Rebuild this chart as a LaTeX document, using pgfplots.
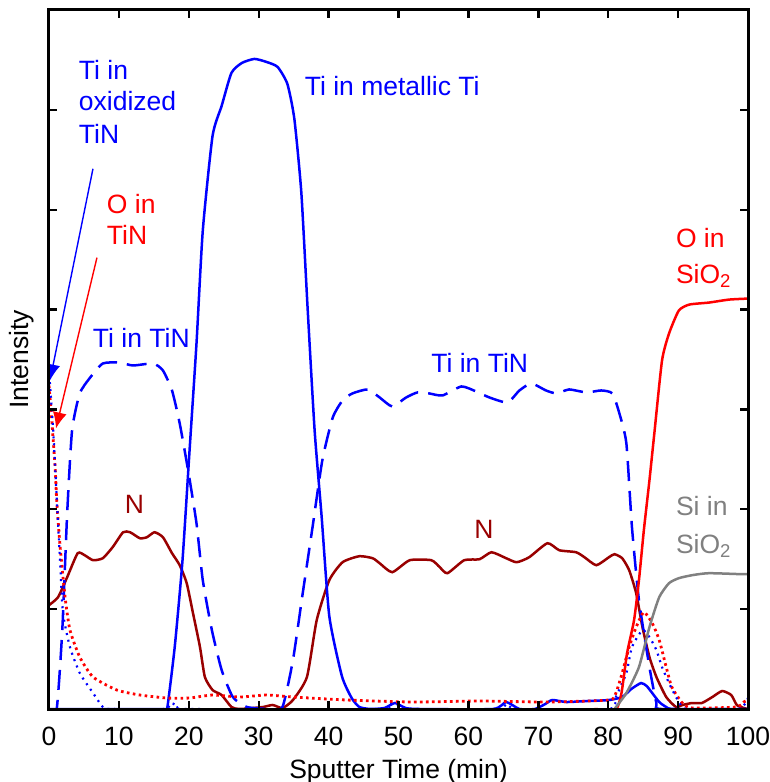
\documentclass[border=0pt]{standalone}
\usepackage{fontspec}
\setmainfont{Liberation Sans}
\usepackage{pgfplots}
\pgfplotsset{compat=1.18}
\usetikzlibrary{arrows.meta}
\definecolor{tiblue}{RGB}{0,0,255}
\definecolor{ored}{RGB}{255,0,0}
\definecolor{ndark}{RGB}{153,0,0}
\definecolor{sigray}{RGB}{128,128,128}
\tikzset{lbl/.style={anchor=base west, inner sep=0pt, outer sep=0pt}}
\begin{document}
\fontsize{13.25pt}{16pt}\selectfont
\begin{tikzpicture}
\useasboundingbox (-24.5pt,-36.5pt) rectangle (360.5pt,354.5pt);
\begin{axis}[
  at={(0pt,0pt)}, anchor=south west,
  scale only axis, width=349.5pt, height=349.5pt,
  xmin=0, xmax=100, ymin=0, ymax=7,
  xtick={0,10,...,100}, ytick={0,1,...,7}, yticklabels={},
  tick align=inside, tick pos=both,
  major tick length=4pt,
  axis on top,
  axis line style={line width=1.5pt},
  every tick/.style={black, line width=1.2pt},
  tick label style={font=\fontsize{13.25pt}{16pt}\selectfont},
  xticklabel style={yshift=-4.5pt},
  /pgf/number format/assume math mode=true,
  xlabel={Sputter Time (min)}, ylabel={Intensity},
  label style={font=\fontsize{13.25pt}{16pt}\selectfont},
  xlabel style={at={(axis description cs:0.5,0)}, anchor=base, yshift=-34.5pt},
  ylabel style={at={(axis description cs:-0.0386,0.5)}, anchor=center},
  every axis plot/.append style={smooth, tension=0.35},
]
% N (dark red)
\addplot[ndark, line width=1.25pt] coordinates {
(0,1.04) (1.3,1.12) (2.6,1.32) (4.1,1.56) (5.1,1.54) (6.3,1.49) (7.7,1.51) (9.1,1.62) (10.6,1.77) (11.6,1.77) (13.0,1.71) (14.0,1.72) (15.1,1.77) (16.3,1.72) (17.6,1.56) (18.7,1.44) (19.7,1.26) (20.6,0.96) (21.6,0.62) (22.3,0.32) (23.4,0.19) (24.7,0.14) (26.1,0.02) (27.3,0) (30.6,0.02) (32.0,0.04) (33.4,0.01) (34.9,0.09) (36.9,0.32) (38.3,0.89) (40.1,1.29) (42.0,1.47) (44.4,1.53) (46.3,1.51) (47.3,1.46) (49.1,1.37) (51.6,1.49) (54.7,1.49) (55.9,1.42) (57.0,1.36) (59.4,1.49) (61.6,1.50) (63.3,1.57) (65.4,1.51) (66.9,1.47) (68.7,1.52) (71.3,1.66) (73.0,1.59) (75.4,1.57) (76.6,1.52) (78.3,1.44) (80.1,1.52) (80.9,1.55) (82.0,1.51) (83.0,1.39) (84.0,1.16) (84.9,0.82) (85.9,0.52) (86.9,0.32) (88.3,0.12) (89.7,0.02) (90.6,0.04) (92.0,0.06) (93.4,0.06) (94.9,0.12) (96.3,0.18) (97.6,0.14) (98.4,0.04) (99.4,0.01) (100,0)
};
% Ti in TiN (dashed blue)
\addplot[tiblue, line width=1.25pt, dash pattern=on 10pt off 5pt] coordinates {
(0,0) (1.1,0) (1.9,0.79) (2.6,1.96) (3.3,2.79) (4.4,3.16) (5.9,3.32) (7.7,3.46) (10.1,3.47) (12.0,3.44) (14.9,3.46) (16.3,3.39) (17.6,3.19) (18.7,2.86) (19.9,2.39) (21.1,1.86) (22.0,1.29) (23.3,0.79) (24.7,0.39) (26.3,0.12) (28.3,0.02) (31.6,0) (33.4,0.02) (34.9,0.49) (36.3,1.16) (37.7,1.82) (39.1,2.49) (40.6,2.92) (42.0,3.09) (43.4,3.16) (45.6,3.20) (47.3,3.12) (49.1,3.03) (51.1,3.12) (52.7,3.17) (54.4,3.16) (56.3,3.14) (59.0,3.23) (61.1,3.18) (63.0,3.12) (65.6,3.07) (67.3,3.19) (69.0,3.26) (71.1,3.19) (72.6,3.16) (74.4,3.20) (76.9,3.17) (79.0,3.19) (80.6,3.16) (81.6,2.96) (82.6,2.66) (83.4,1.82) (84.4,1.09) (85.9,0.42) (86.9,0.06) (87.6,0) (100,0)
};
% Ti in metallic Ti (solid blue)
\addplot[tiblue, line width=1.25pt] coordinates {
(0,0) (16.5,0) (16.9,0) (18,0.63) (19.1,1.49) (20.1,2.58) (21.1,3.66) (22.0,4.79) (23.4,5.74) (24.7,6.04) (26.1,6.37) (27.6,6.47) (29.4,6.51) (31.1,6.48) (32.7,6.43) (34.1,6.26) (35.1,5.91) (36.1,5.17) (37.0,4.01) (38.0,2.79) (39.0,1.93) (40.1,0.93) (41.9,0.33) (43.3,0.11) (44.4,0.02) (46,0) (48,0.01) (49.5,0.06) (51,0.01) (53,0) (63.5,0) (65.4,0.07) (67.3,0) (69.5,0) (71,0.05) (72,0.09) (74,0.07) (77,0.08) (80.1,0.09) (82,0.12) (83.3,0.2) (84.7,0.26) (85.5,0.23) (86.3,0.16) (87.3,0.07) (88.3,0.02) (89.5,0) (100,0)
};
% O in TiN (red dotted)
\addplot[ored, line width=1.4pt, dash pattern=on 1.3pt off 1.7pt] coordinates {
(0,3.24) (0.4,2.89) (0.9,2.39) (1.1,2.09) (1.6,1.62) (2.3,1.12) (3.0,0.79) (4.4,0.52) (6.3,0.32) (9.7,0.19) (13.0,0.14) (16.9,0.11) (20.1,0.11) (23.4,0.14) (27.3,0.12) (31.1,0.14) (34.9,0.12) (42.6,0.09) (52.0,0.07) (61.6,0.08) (71.1,0.07) (80.1,0.09) (81.1,0.16) (82.0,0.36) (83.0,0.62) (84.0,0.82) (85.1,0.97) (86.3,0.86) (87.3,0.69) (88.3,0.42) (89.1,0.22) (90.6,0.06) (92.0,0.01) (98.3,0.02) (99.4,0.07) (100,0.09)
};
% Ti in oxidized TiN (blue dotted)
\addplot[tiblue, line width=1.1pt, dash pattern=on 1pt off 2.4pt] coordinates {
(0,3.34) (0.1,3.29) (0.6,2.79) (1.1,2.12) (1.6,1.46) (2.0,0.96) (3.0,0.62) (4.4,0.36) (6.3,0.16) (7.7,0.02) (8.7,0) (16.5,0) (17.5,0.06) (18.5,0.02) (19.5,0) (47.5,0) (49,0.05) (50.5,0.03) (52,0) (64,0) (65.5,0.05) (67,0) (80.1,0) (81.1,0.12) (82.6,0.36) (83.4,0.62) (84.9,0.79) (85.9,0.72) (86.9,0.59) (87.7,0.42) (88.7,0.26) (89.7,0.12) (90.6,0.02) (91.6,0) (98.7,0) (100,0.11)
};
% O in SiO2 (red solid)
\addplot[ored, line width=1.25pt] coordinates {
(78,0) (81.1,0) (81.9,0.16) (82.7,0.56) (83.7,0.89) (84.4,1.29) (85.1,1.79) (85.9,2.29) (86.6,2.76) (87.7,3.49) (88.7,3.76) (90.1,3.99) (91.6,4.05) (94.4,4.07) (97.3,4.10) (100,4.11)
};
% Si in SiO2 (gray)
\addplot[sigray, line width=1.25pt] coordinates {
(80.9,0) (82.6,0.16) (84.4,0.42) (85.9,0.82) (87.3,1.12) (88.7,1.26) (90.1,1.31) (92.0,1.34) (94.4,1.36) (99.1,1.35) (100,1.35)
};
% labels
\node[lbl, text=tiblue] at (axis cs:36.6,6.14) {Ti in metallic Ti};
\node[lbl, text=tiblue] at (axis cs:4.29,6.30) {Ti in};
\node[lbl, text=tiblue] at (axis cs:4.29,5.99) {oxidized};
\node[lbl, text=tiblue] at (axis cs:4.29,5.66) {TiN};
\node[lbl, text=ored] at (axis cs:8.29,4.96) {O in};
\node[lbl, text=ored] at (axis cs:8.29,4.65) {TiN};
\node[lbl, text=tiblue] at (axis cs:6.29,3.62) {Ti in TiN};
\node[lbl, text=tiblue] at (axis cs:54.7,3.37) {Ti in TiN};
\node[lbl, text=ndark] at (axis cs:10.86,1.96) {N};
\node[lbl, text=ndark] at (axis cs:60.86,1.71) {N};
\node[lbl, text=ored] at (axis cs:89.7,4.62) {O in};
\node[lbl, text=ored] at (axis cs:89.7,4.26) {SiO\textsubscript{2}};
\node[lbl, text=sigray] at (axis cs:89.7,1.94) {Si in};
\node[lbl, text=sigray] at (axis cs:89.7,1.56) {SiO\textsubscript{2}};
\draw[tiblue, line width=0.7pt, -{Latex[length=8pt,width=7pt]}] (axis cs:6.29,5.41) -- (axis cs:0.14,3.29);
\draw[ored, line width=0.7pt, -{Latex[length=8pt,width=7pt]}] (axis cs:6.86,4.52) -- (axis cs:1.0,2.81);
\end{axis}
\end{tikzpicture}
\end{document}
